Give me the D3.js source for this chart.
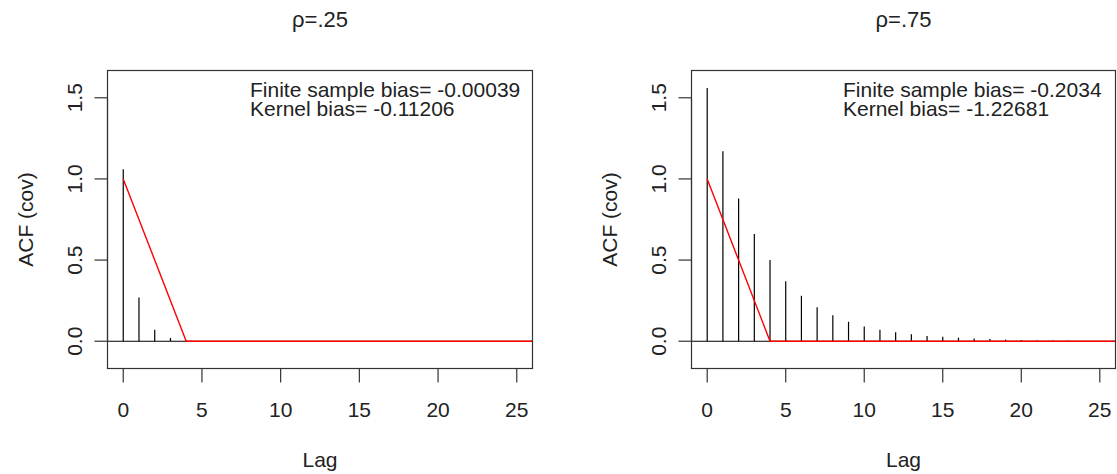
<!DOCTYPE html>
<html>
<head>
	<meta charset="utf-8">
	<title>ACF vs kernel</title>
	<style>
		html, body {
			margin: 0;
			padding: 0;
			background: #fff;
		}
		svg text {
			font-family: 'Liberation Sans', Arial, Helvetica, sans-serif;
			fill: #222;
		}
	</style>
</head>
<body>
	<svg id="chart" width="1117" height="474"></svg>

	<script src="https://cdnjs.cloudflare.com/ajax/libs/d3/7.8.5/d3.min.js"></script>
	<script>
		// values
		var lags = d3.range(0, 26);
		var acfLow = [1.06, 0.27, 0.07, 0.02, 0.005, 0.001, 0, 0, 0, 0, 0, 0, 0,
			0, 0, 0, 0, 0, 0, 0, 0, 0, 0, 0, 0, 0];
		var acfHigh = [1.56, 1.17, 0.88, 0.66, 0.50, 0.37, 0.28, 0.21, 0.16, 0.12,
			0.09, 0.07, 0.055, 0.043, 0.033, 0.027, 0.022, 0.017, 0.013, 0.01,
			0.007, 0.005, 0.004, 0.003, 0.002, 0.001];
		var kernelLag = [0, 4, 26];
		var kernelVal = [1, 0, 0];
		var xTicks = [0, 5, 10, 15, 20, 25];
		var yTicks = [0, 0.5, 1.0, 1.5];

		var panels = [
			{ title: 'ρ=.25', acf: acfLow, left: 107.5, right: 532.5,
				lines: ['Finite sample bias= -0.00039', 'Kernel bias= -0.11206'], textX: 250 },
			{ title: 'ρ=.75', acf: acfHigh, left: 691.5, right: 1115.5,
				lines: ['Finite sample bias= -0.2034', 'Kernel bias= -1.22681'], textX: 843 }
		];

		var plotTop = 70.5, plotBottom = 368.5;
		var svg = d3.select('#chart');

		function drawPanel(p) {
			var g = svg.append('g');
			// R style axes: 4% padding around lag 0..25 and ylim -0.1..1.6
			var x = d3.scaleLinear().domain([-1, 26]).range([p.left, p.right]);
			var y = d3.scaleLinear().domain([-0.168, 1.668]).range([plotBottom, plotTop]);
			var mid = (p.left + p.right) / 2;

			g.append('text')
				.attr('x', mid).attr('y', 27)
				.attr('text-anchor', 'middle')
				.style('font-size', '22px')
				.text(p.title);

			// zero line
			g.append('line')
				.attr('x1', p.left).attr('x2', p.right)
				.attr('y1', y(0)).attr('y2', y(0))
				.attr('stroke', '#000').attr('stroke-width', 1.1);

			// sticks
			g.selectAll('line.stick')
				.data(lags)
				.join('line')
				.attr('class', 'stick')
				.attr('x1', function(d) { return x(d); })
				.attr('x2', function(d) { return x(d); })
				.attr('y1', y(0))
				.attr('y2', function(d, i) { return y(p.acf[i]); })
				.attr('stroke', '#000').attr('stroke-width', 1.2);

			// kernel
			var line = d3.line()
				.x(function(d) { return x(d); })
				.y(function(d, i) { return y(kernelVal[i]); });
			g.append('path')
				.attr('d', line(kernelLag))
				.attr('fill', 'none')
				.attr('stroke', '#f00').attr('stroke-width', 1.4);

			// box
			g.append('rect')
				.attr('x', p.left).attr('y', plotTop)
				.attr('width', p.right - p.left).attr('height', plotBottom - plotTop)
				.attr('fill', 'none').attr('stroke', '#333').attr('stroke-width', 1.2);

			// x axis
			var xa = g.append('g').attr('transform', 'translate(0,' + plotBottom + ')');
			xa.append('line')
				.attr('x1', x(0)).attr('x2', x(25))
				.attr('stroke', '#333').attr('stroke-width', 1.2);
			xa.selectAll('line.tk').data(xTicks).join('line')
				.attr('class', 'tk')
				.attr('x1', function(d) { return x(d); })
				.attr('x2', function(d) { return x(d); })
				.attr('y1', 0).attr('y2', 14)
				.attr('stroke', '#333').attr('stroke-width', 1.2);
			xa.selectAll('text').data(xTicks).join('text')
				.attr('x', function(d) { return x(d); })
				.attr('y', 48)
				.attr('text-anchor', 'middle')
				.style('font-size', '21px')
				.text(function(d) { return d; });

			g.append('text')
				.attr('x', mid).attr('y', 467)
				.attr('text-anchor', 'middle')
				.style('font-size', '21px')
				.text('Lag');

			// y axis
			var ya = g.append('g').attr('transform', 'translate(' + p.left + ',0)');
			ya.append('line')
				.attr('y1', y(0)).attr('y2', y(1.5))
				.attr('stroke', '#333').attr('stroke-width', 1.2);
			ya.selectAll('line.tk').data(yTicks).join('line')
				.attr('class', 'tk')
				.attr('y1', function(d) { return y(d); })
				.attr('y2', function(d) { return y(d); })
				.attr('x1', 0).attr('x2', -13)
				.attr('stroke', '#333').attr('stroke-width', 1.2);
			ya.selectAll('text').data(yTicks).join('text')
				.attr('transform', function(d) { return 'translate(-26,' + y(d) + ') rotate(-90)'; })
				.attr('text-anchor', 'middle')
				.style('font-size', '21px')
				.text(function(d) { return d.toFixed(1); });

			g.append('text')
				.attr('transform', 'translate(' + (p.left - 75) + ',' + ((plotTop + plotBottom) / 2) + ') rotate(-90)')
				.attr('text-anchor', 'middle')
				.style('font-size', '21px')
				.text('ACF (cov)');

			// bias annotation
			g.selectAll('text.note').data(p.lines).join('text')
				.attr('class', 'note')
				.attr('x', p.textX)
				.attr('y', function(d, i) { return 97 + i * 19; })
				.style('font-size', '21px')
				.text(function(d) { return d; });
		}

		panels.forEach(drawPanel);
	</script>
</body>
</html>
